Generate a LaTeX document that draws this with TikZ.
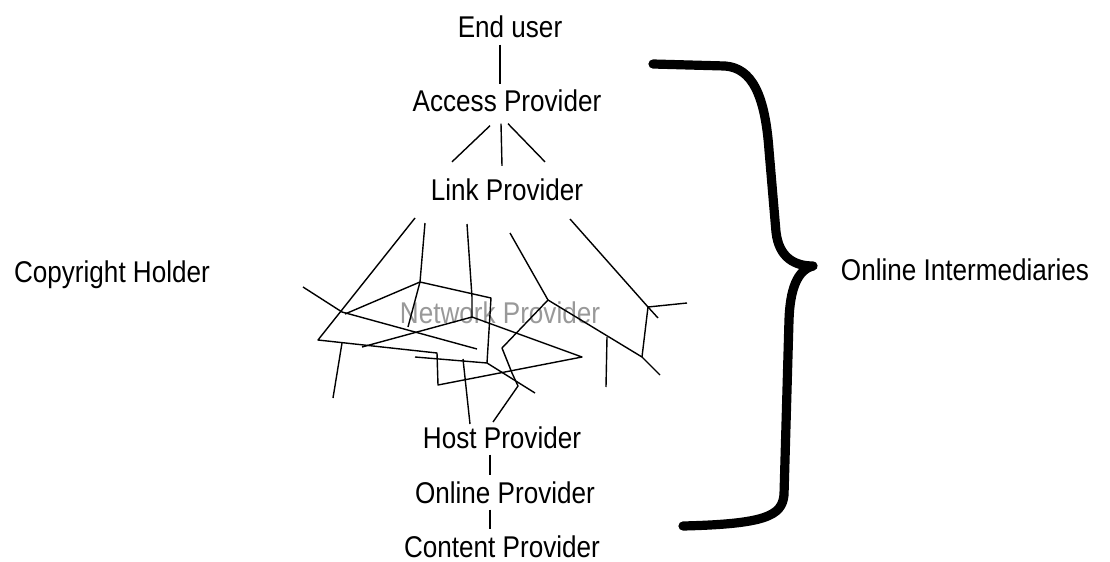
\documentclass[tikz,border=0pt]{standalone}
\usepackage{fontspec}
\setmainfont{Liberation Sans}[FakeStretch=0.87]
\definecolor{netgray}{gray}{0.6}
\begin{document}
\begin{tikzpicture}[x=0.5pt, y=-0.5pt,
    txt/.style={font=\fontsize{15}{18}\selectfont, inner sep=3pt, anchor=base},
    wire/.style={line width=0.7pt, line join=round},
    bigbrace/.style={line width=4.6pt, line cap=round, line join=round}]
  \useasboundingbox (0,0) rectangle (1110,562);
  % the chain of providers
  \node[txt] (user) at (510,38) {End user};
  \node[txt] (access) at (507,112) {Access Provider};
  \node[txt] (link) at (507,200) {Link Provider};
  \node[txt, text=netgray] (network) at (500,323) {Network Provider};
  \node[txt] (host) at (502,448) {Host Provider};
  \node[txt] (online) at (505,503) {Online Provider};
  \node[txt] (content) at (502,557) {Content Provider};
  \node[txt] (holder) at (112,282) {Copyright Holder};
  \node[txt] (inter) at (965,280) {Online Intermediaries};
  \coordinate (spine) at (500,0);
  \coordinate (spinelow) at (490,0);
  \draw[wire] (user.south -| spine) -- (access.north -| spine);
  \draw[wire] ([shift={(-17,7)}]access.south) -- ([shift={(-55,-10)}]link.north);
  \draw[wire] ([shift={(-6,5)}]access.south) -- ([shift={(-5,-6)}]link.north);
  \draw[wire] ([shift={(1,5)}]access.south) -- ([shift={(38,-10)}]link.north);
  \draw[wire] (host.south -| spinelow) -- (online.north -| spinelow);
  \draw[wire] (online.south -| spinelow) -- (content.north -| spinelow);
  % junctions of the network
  \coordinate (j1) at (420,282);
  \coordinate (j2) at (472,317);
  \coordinate (j3) at (548,300);
  \coordinate (j4) at (648,307);
  \coordinate (j5) at (438,385);
  \coordinate (j6) at (582,357);
  \coordinate (j7) at (487,363);
  % the network
  \draw[wire] (415,218) -- (318,340) -- (437,353) -- (j5) -- (j6) -- (j2);
  \draw[wire] (303,287) -- (342,312) -- (477,349);
  \draw[wire] (345,314) -- (j1);
  \draw[wire] (425,223) -- (j1) -- (408,327);
  \draw[wire] (j1) -- (491,298) -- (j7);
  \draw[wire] (467,224) -- (472,297) -- (j2);
  \draw[wire] (362,347) -- (j2);
  \draw[wire] (415,357) -- (j7) -- (535,393);
  \draw[wire] (463,359) -- (470,424);
  \draw[wire] (510,233) -- (j3) -- (502,348) -- (512,373) -- (518,386) -- (493,422);
  \draw[wire] (j3) -- (642,357) -- (660,375);
  \draw[wire] (607,337) -- (606,387);
  \draw[wire] (570,219) -- (j4) -- (687,303);
  \draw[wire] (j4) -- (658,318);
  \draw[wire] (j4) -- (642,357);
  \draw[wire] (342,343) -- (333,398);
  % brace round the intermediaries
  \draw[bigbrace] (653,64) -- (725,66) .. controls (752,68) and (765,95) .. (769,150)
    -- (776,232) .. controls (779,258) and (795,266) .. (813,266)
    .. controls (797,270) and (790,290) .. (789,320) -- (784,495)
    .. controls (782,516) and (765,524) .. (683,526);
\end{tikzpicture}
\end{document}
